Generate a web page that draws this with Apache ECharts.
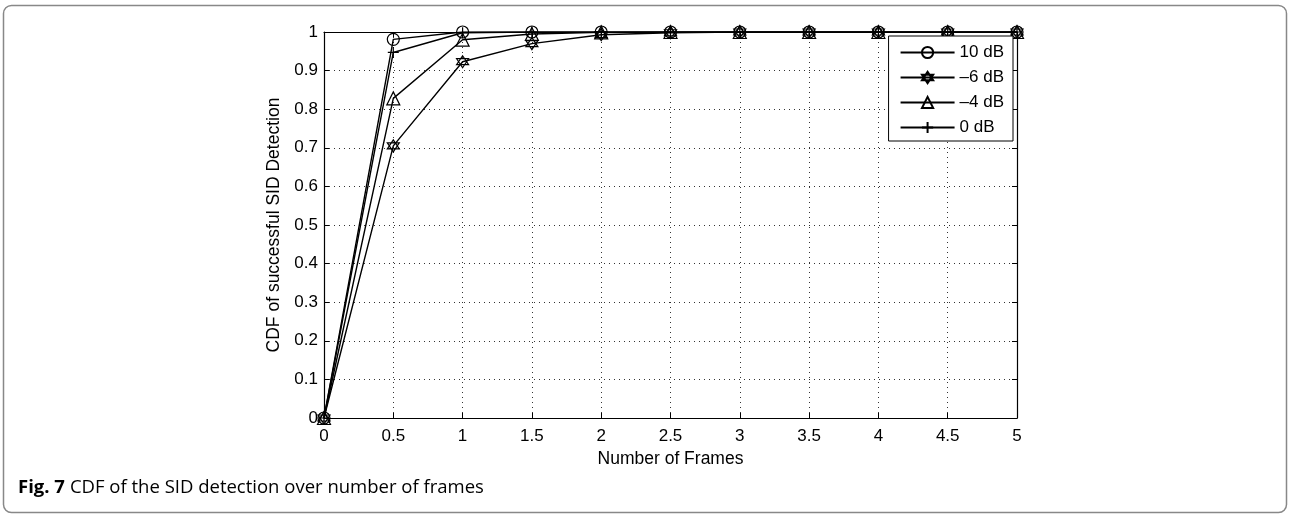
<!DOCTYPE html>
<html>
<head>
<meta charset="utf-8">
<script src="https://cdn.jsdelivr.net/npm/echarts@6/dist/echarts.min.js"></script>
<style>
  html, body { margin: 0; padding: 0; background: #fff; }
  #chart { width: 1290px; height: 518px; }
</style>
</head>
<body>
<div id="chart"></div>
<script>
// ---- data ----
var frames = [0, 0.5, 1, 1.5, 2, 2.5, 3, 3.5, 4, 4.5, 5];
var xTickLabels = ['0', '0.5', '1', '1.5', '2', '2.5', '3', '3.5', '4', '4.5', '5'];
var yTickLabels = ['0', '0.1', '0.2', '0.3', '0.4', '0.5', '0.6', '0.7', '0.8', '0.9', '1'];
var seriesNames = ['10 dB', '\u20136 dB', '\u20134 dB', '0 dB'];
var cdf10dB  = [0, 0.981, 1.000, 1.000, 1.000, 1.000, 1, 1, 1, 1, 1];
var cdfM6dB  = [0, 0.705, 0.923, 0.970, 0.993, 0.998, 1, 1, 1, 1, 1];
var cdfM4dB  = [0, 0.828, 0.980, 0.995, 0.999, 1.000, 1, 1, 1, 1, 1];
var cdf0dB   = [0, 0.947, 0.998, 1.000, 1.000, 1.000, 1, 1, 1, 1, 1];

// ---- styling ----
var FONT = '"Liberation Sans", Arial, Helvetica, sans-serif';
var symCircle = 'circle';
var symHexagram = 'path://M0,-10 L8.66,5 L-8.66,5 Z M0,10 L8.66,-5 L-8.66,-5 Z';
var symTriangle = 'path://M0,-8 L9,8 L-9,8 Z';
var symPlus = 'path://M0,-10 L0,10 M-10,0 L10,0';

function pairs(ys) { return frames.map(function (x, i) { return [x, ys[i]]; }); }
function mkSeries(name, ys, symbol, size) {
  return {
    name: name, type: 'line', data: pairs(ys),
    symbol: symbol, symbolSize: size, showAllSymbol: true,
    lineStyle: { color: '#000', width: 1.4 },
    itemStyle: { color: 'rgba(0,0,0,0)', borderColor: '#000', borderWidth: 1.2 },
    emphasis: { disabled: true },
    animation: false, z: 3
  };
}
var idxLabel = function (labels, step) {
  return function (v) { var i = Math.round(v / step); return labels[i] !== undefined ? labels[i] : ''; };
};
var tick = { show: true, inside: true, length: 5, lineStyle: { color: '#000', width: 1 } };
var axLine = { onZero: false, lineStyle: { color: '#000', width: 1.2 } };
var grid = { show: true, lineStyle: { color: '#333', type: [1, 4], width: 1 } };

var chart = echarts.init(document.getElementById('chart'), null, { renderer: 'canvas' });
chart.setOption({
  backgroundColor: '#fff',
  animation: false,
  grid: { left: 324, right: 273, top: 32, bottom: 100, containLabel: false },
  graphic: [
    { type: 'rect', shape: { x: 3.5, y: 5.5, width: 1283, height: 507, r: 8 },
      style: { fill: 'none', stroke: '#888', lineWidth: 1.5 }, z: -1 }
  ],
  title: {
    left: 13, top: 473,
    text: '{b|Fig. 7} {n|CDF of the SID detection over number of frames}',
    textStyle: {
      rich: {
        b: { fontFamily: '"Open Sans", sans-serif', fontWeight: 'bold', fontSize: 18.5, color: '#000' },
        n: { fontFamily: '"Open Sans", sans-serif', fontWeight: 'normal', fontSize: 18.5, color: '#000' }
      }
    }
  },
  legend: {
    orient: 'vertical', right: 277, top: 36,
    backgroundColor: '#fff', borderColor: '#000', borderWidth: 1,
    padding: [8, 9, 5, 11], itemGap: 8, itemWidth: 54, itemHeight: 14,
    textStyle: { fontFamily: FONT, fontSize: 17, lineHeight: 16, color: '#000' },
    data: seriesNames
  },
  xAxis: [
    { type: 'value', min: 0, max: 5, interval: 0.5,
      name: 'Number of Frames', nameLocation: 'middle', nameGap: 27,
      nameTextStyle: { fontFamily: FONT, fontSize: 17.5, color: '#000' },
      axisLine: axLine, axisTick: tick,
      axisLabel: { fontFamily: FONT, fontSize: 17, color: '#000', margin: 10, formatter: idxLabel(xTickLabels, 0.5) },
      splitLine: grid },
    { type: 'value', min: 0, max: 5, interval: 0.5, position: 'top',
      axisLine: axLine, axisTick: tick,
      axisLabel: { show: false }, splitLine: { show: false } }
  ],
  yAxis: [
    { type: 'value', min: 0, max: 1, interval: 0.1,
      name: 'CDF of successful SID Detection', nameLocation: 'middle', nameGap: 40,
      nameTextStyle: { fontFamily: FONT, fontSize: 17.5, color: '#000' },
      axisLine: axLine, axisTick: tick,
      axisLabel: { fontFamily: FONT, fontSize: 17, color: '#000', margin: 6, formatter: idxLabel(yTickLabels, 0.1) },
      splitLine: grid },
    { type: 'value', min: 0, max: 1, interval: 0.1, position: 'right',
      axisLine: axLine, axisTick: tick,
      axisLabel: { show: false }, splitLine: { show: false } }
  ],
  series: [
    mkSeries(seriesNames[0], cdf10dB, symCircle, 12),
    mkSeries(seriesNames[1], cdfM6dB, symHexagram, 12),
    mkSeries(seriesNames[2], cdfM4dB, symTriangle, 13),
    mkSeries(seriesNames[3], cdf0dB, symPlus, 11)
  ]
});
</script>
</body>
</html>
